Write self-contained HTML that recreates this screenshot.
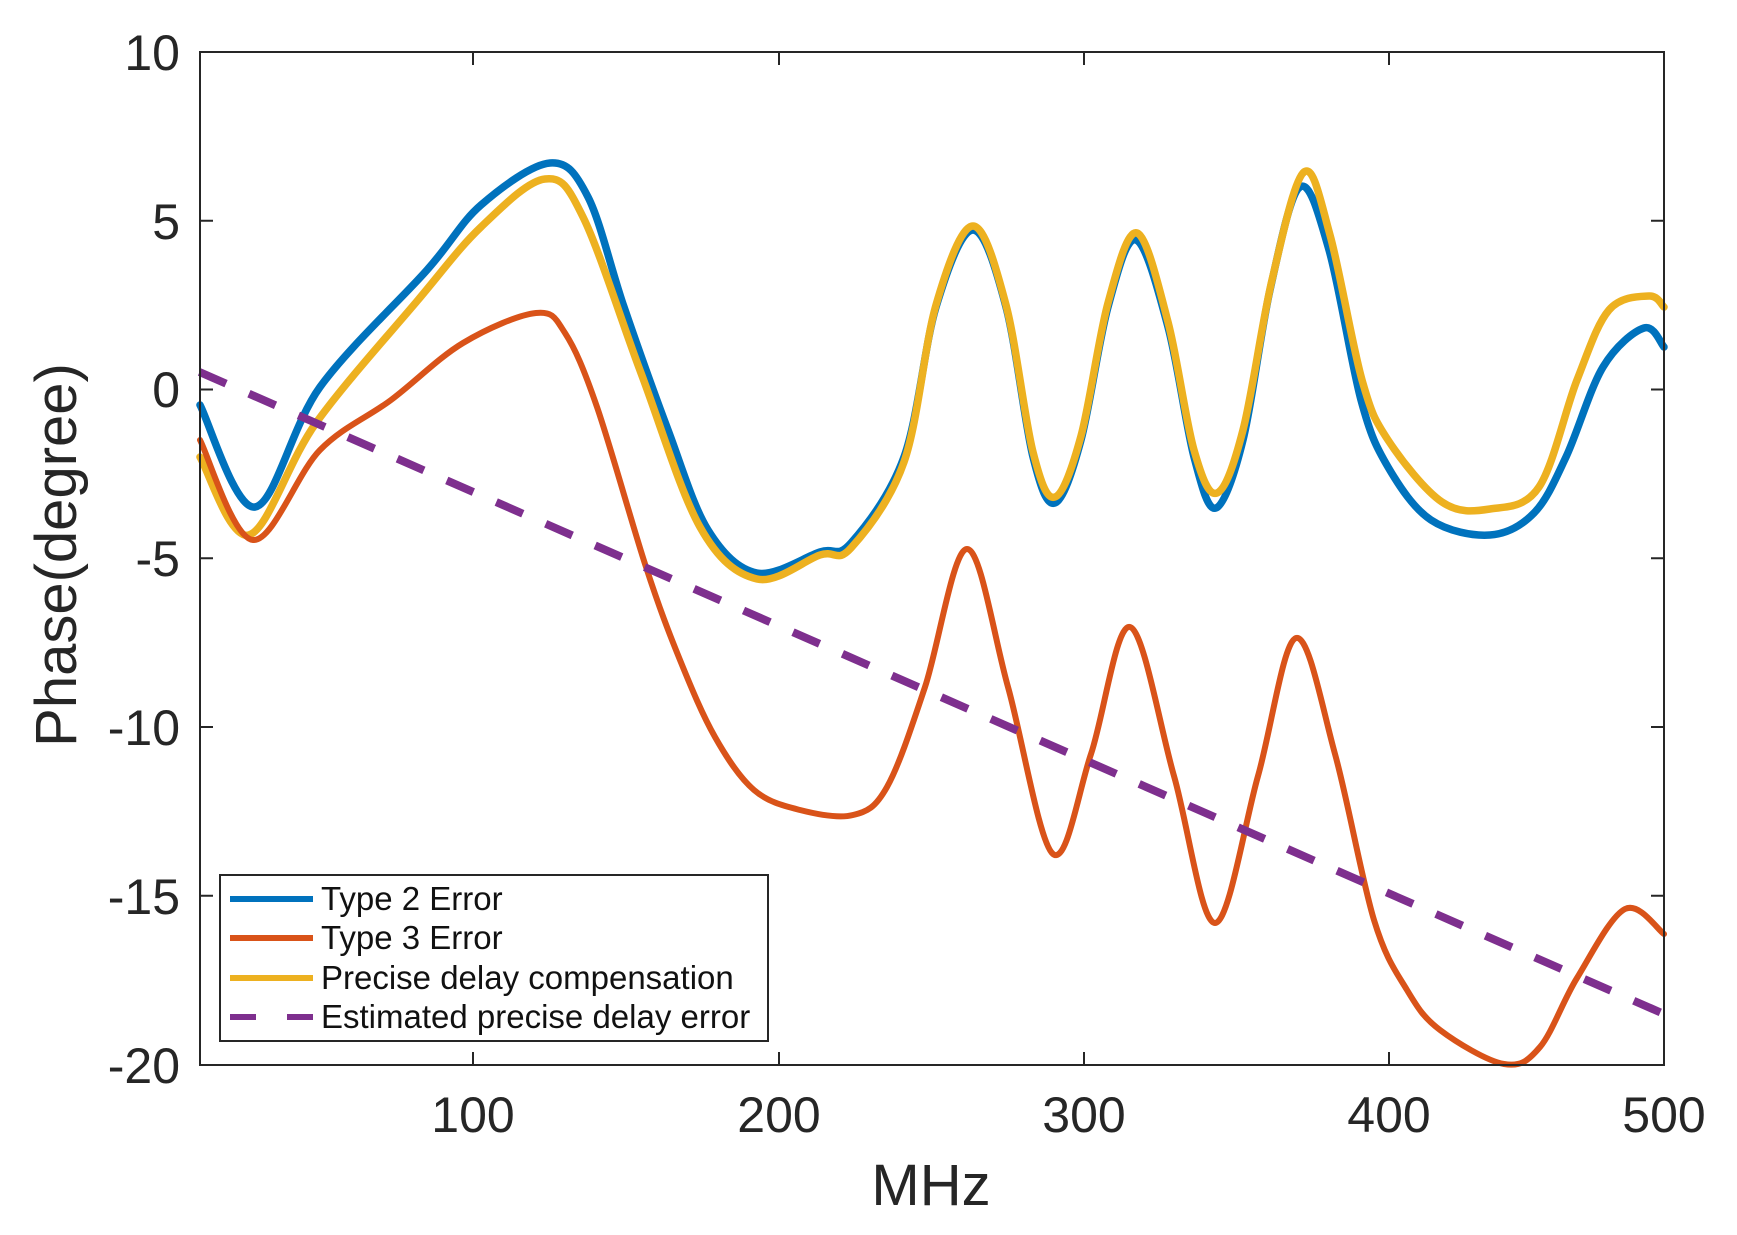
<!DOCTYPE html>
<html><head><meta charset="utf-8"><style>
html,body{margin:0;padding:0;background:#fff;}
svg{display:block;font-family:"Liberation Sans",Arial,sans-serif;}
</style></head><body>
<svg id="s" width="1737" height="1235" viewBox="0 0 1737 1235" xmlns="http://www.w3.org/2000/svg">
<rect width="1737" height="1235" fill="#fff"/>
<g id="curves" fill="none" stroke-linecap="round" stroke-linejoin="round"></g>
<line x1="199.5" y1="372" x2="1664" y2="1014" stroke="#7E2F8E" stroke-width="8" stroke-dasharray="29,25"/>
<g stroke="#262626" stroke-width="2" fill="none">
<rect x="200" y="52" width="1464" height="1013"/>
<path d="M473,1065v-13M779,1065v-13M1084,1065v-13M1389,1065v-13M473,52v13M779,52v13M1084,52v13M1389,52v13"/>
<path d="M200,220.8h13M200,389.5h13M200,558.3h13M200,727h13M200,895.8h13M1664,220.8h-13M1664,389.5h-13M1664,558.3h-13M1664,727h-13M1664,895.8h-13"/>
</g>
<g fill="#262626" font-size="50" text-anchor="end">
<text x="180" y="70">10</text>
<text x="180" y="239">5</text>
<text x="180" y="407">0</text>
<text x="180" y="576">-5</text>
<text x="180" y="745">-10</text>
<text x="180" y="914">-15</text>
<text x="180" y="1083">-20</text>
</g>
<g fill="#262626" font-size="50" text-anchor="middle">
<text x="473" y="1132">100</text>
<text x="779" y="1132">200</text>
<text x="1084" y="1132">300</text>
<text x="1389" y="1132">400</text>
<text x="1664" y="1132">500</text>
<text x="931" y="1205" font-size="58">MHz</text>
<text x="0" y="0" font-size="58" transform="translate(76,555) rotate(-90)">Phase(degree)</text>
</g>
<g>
<rect x="220" y="875" width="548" height="166" fill="#fff" stroke="#262626" stroke-width="2"/>
<line x1="230" y1="899" x2="313" y2="899" stroke="#0072BD" stroke-width="6"/>
<line x1="230" y1="938" x2="313" y2="938" stroke="#D95319" stroke-width="6"/>
<line x1="230" y1="978" x2="313" y2="978" stroke="#EDB120" stroke-width="6"/>
<line x1="230" y1="1017" x2="313" y2="1017" stroke="#7E2F8E" stroke-width="6" stroke-dasharray="26,31"/>
<g font-size="33" fill="#111">
<text x="321" y="910">Type 2 Error</text>
<text x="321" y="949">Type 3 Error</text>
<text x="321" y="989">Precise delay compensation</text>
<text x="321" y="1028">Estimated precise delay error</text>
</g>
</g>
</svg>
<script>
function cr(p){var d="M"+p[0][0]+","+p[0][1];for(var i=0;i<p.length-1;i++){var p0=p[i>0?i-1:0],p1=p[i],p2=p[i+1],p3=p[i+2<p.length?i+2:i+1];
var c1x=p1[0]+(p2[0]-p0[0])/6,c1y=p1[1]+(p2[1]-p0[1])/6,c2x=p2[0]-(p3[0]-p1[0])/6,c2y=p2[1]-(p3[1]-p1[1])/6;
d+=" C"+c1x.toFixed(1)+","+c1y.toFixed(1)+" "+c2x.toFixed(1)+","+c2y.toFixed(1)+" "+p2[0]+","+p2[1];}return d;}
var blue=[[200,405],[255,507],[320,387],[427,270],[481,205],[550,163],[588,197],[624,307],[668,430],[708,530],[757,573],[820,552],[851,543],[904,457],[936,307],[973,230],[1006,307],[1033,457],[1055,503],[1081,440],[1108,307],[1136,240],[1168,327],[1194,457],[1216,508],[1243,440],[1270,290],[1300,187],[1329,250],[1361,400],[1388,467],[1431,520],[1490,535],[1534,513],[1566,457],[1603,367],[1644,328],[1664,347]];
var yel=[[200,457],[249,535],[316,423],[418,300],[481,227],[545,179],[583,217],[641,373],[700,527],[757,579],[820,555],[851,548],[904,462],[936,305],[973,226],[1006,305],[1033,452],[1055,497],[1081,436],[1108,303],[1137,233],[1168,322],[1194,450],[1217,493],[1243,430],[1272,280],[1304,172],[1330,235],[1362,380],[1388,440],[1442,502],[1490,509],[1539,487],[1577,380],[1609,310],[1649,296],[1664,307]];
var org=[[200,440],[253,540],[320,450],[391,400],[463,343],[536,313],[565,333],[597,407],[646,567],[680,660],[715,737],[754,790],[800,810],[853,815],[887,787],[925,687],[967,549],[1008,687],[1053,854],[1091,754],[1130,627],[1174,776],[1215,923],[1258,776],[1296,638],[1335,754],[1374,920],[1407,990],[1440,1030],[1504,1064],[1540,1047],[1577,978],[1625,909],[1664,934]];
var g=document.getElementById("curves"),ns="http://www.w3.org/2000/svg";
[[blue,"#0072BD",7.5],[yel,"#EDB120",7.5],[org,"#D95319",6]].forEach(function(s){var p=document.createElementNS(ns,"path");p.setAttribute("d",cr(s[0]));p.setAttribute("stroke",s[1]);p.setAttribute("stroke-width",s[2]);g.appendChild(p);});
</script>
</body></html>
